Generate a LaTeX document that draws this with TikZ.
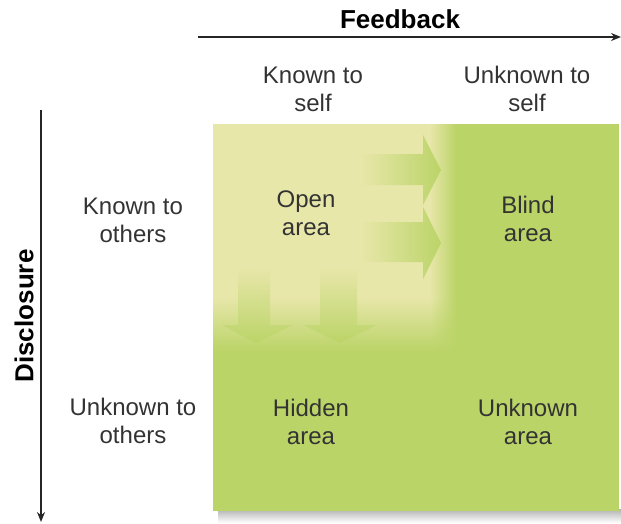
\documentclass[tikz,border=0pt]{standalone}
\usepackage{fontspec}
\setmainfont{Liberation Sans}
\usetikzlibrary{arrows.meta}
\definecolor{gr}{HTML}{BBD468}
\definecolor{lt}{HTML}{E8E7AA}
\definecolor{txt}{HTML}{333333}
\begin{document}
\begin{tikzpicture}[x=1pt,y=-1pt,
  lbl/.style={align=center,font=\fontsize{24}{28}\selectfont,text=txt,inner sep=0pt},
  axislbl/.style={font=\fontsize{26}{30}\selectfont\bfseries,text=black,inner sep=0pt},
  axisline/.style={line width=2pt,draw=black!85,-{Stealth[length=10pt,width=8pt]}},
  rarrow/.style={left color=lt,right color=gr,draw=none},
  darrow/.style={top color=lt,bottom color=gr,draw=none}]
\useasboundingbox (0,0) rectangle (621,523);
% shadow
\shade[top color=black!30,bottom color=white] (218,509) rectangle (621,523);
% window
\fill[gr] (213,124) rectangle (619,511);
% open area (light region)
\fill[lt] (213,124) rectangle (430,296);
\shade[left color=lt,right color=gr] (429.5,124) rectangle (456,296);
\foreach \k in {0,...,26}{
  \pgfmathsetmacro{\yy}{296+2*\k}
  \pgfmathsetmacro{\pp}{100-100*\k/27}
  \colorlet{bandc}{lt!\pp!gr}
  \fill[bandc] (213,\yy) rectangle (430.5,\yy+2.6);
  \shade[left color=bandc,right color=gr] (430,\yy) rectangle (456,\yy+2.6);
}
% arrows to the right
\shade[rarrow] (360,154) -- (423,154) -- (423,135) -- (441,170) -- (423,205) -- (423,185) -- (360,185) -- cycle;
\shade[rarrow] (360,222) -- (423,222) -- (423,207) -- (441,243) -- (423,279) -- (423,262) -- (360,262) -- cycle;
% arrows downward
\shade[darrow] (238,267) -- (238,325) -- (222,325) -- (256,343) -- (293,325) -- (270,325) -- (270,267) -- cycle;
\shade[darrow] (320,267) -- (320,325) -- (303,325) -- (340,343) -- (377,325) -- (357,325) -- (357,267) -- cycle;
% axes
\coordinate (fbs) at (198,37);
\coordinate (fbe) at (621,37);
\draw[axisline] (fbs) -- (fbe);
\coordinate (dss) at (41,110);
\coordinate (dse) at (41,522);
\draw[axisline] (dss) -- (dse);
\node[axislbl] (feedback) at (400,19) {Feedback};
\node[axislbl,rotate=90] (disclosure) at (24,316) {Disclosure};
% headers
\node[lbl] (ks) at (313,89) {Known to\\self};
\node[lbl] (us) at (527,89) {Unknown to\\self};
\node[lbl] (ko) at (133,220) {Known to\\others};
\node[lbl] (uo) at (133,421) {Unknown to\\others};
% cells
\node[lbl] (open) at (306,213) {Open\\area};
\node[lbl] (blind) at (528,219) {Blind\\area};
\node[lbl] (hidden) at (311,422) {Hidden\\area};
\node[lbl] (unknown) at (528,422) {Unknown\\area};
\end{tikzpicture}
\end{document}
